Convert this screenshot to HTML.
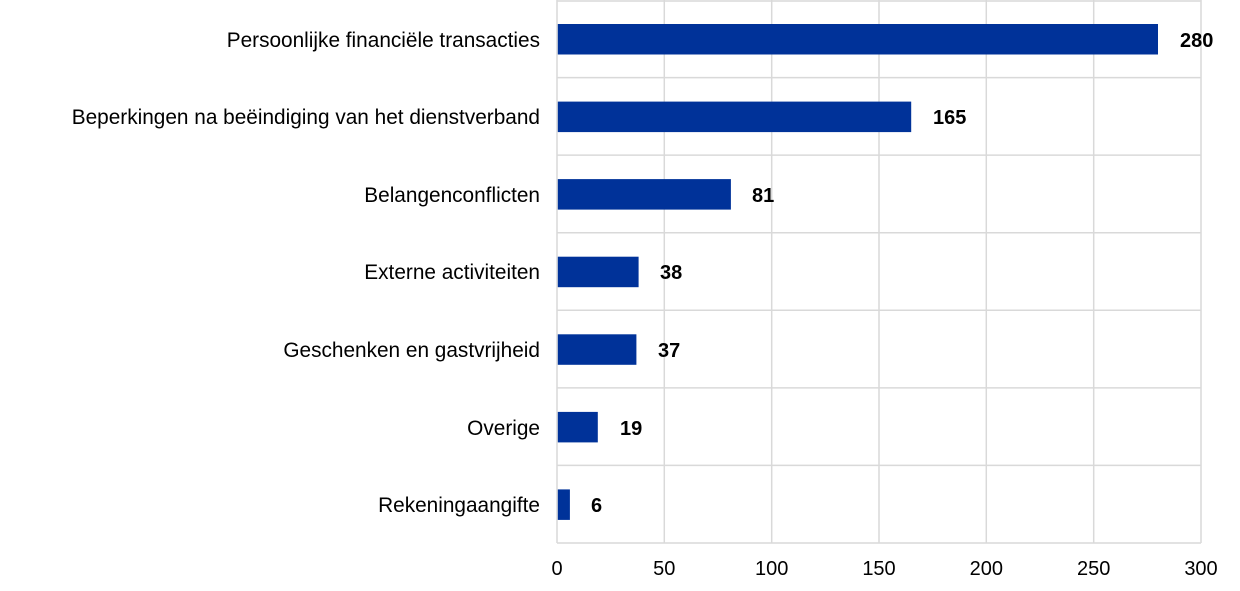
<!DOCTYPE html>
<html><head><meta charset="utf-8"><style>
html,body{margin:0;padding:0;background:#fff;}
svg{display:block;font-family:"Liberation Sans",Arial,sans-serif;}
</style></head><body>
<svg width="1240" height="591" viewBox="0 0 1240 591" xmlns="http://www.w3.org/2000/svg">
<g stroke="#d9d9d9" stroke-width="1.5" fill="none">
<line x1="664.3" y1="0" x2="664.3" y2="543"/>
<line x1="771.7" y1="0" x2="771.7" y2="543"/>
<line x1="879" y1="0" x2="879" y2="543"/>
<line x1="986.3" y1="0" x2="986.3" y2="543"/>
<line x1="1093.7" y1="0" x2="1093.7" y2="543"/>
<line x1="1201" y1="0" x2="1201" y2="543"/>
<line x1="557" y1="1" x2="1201" y2="1"/>
<line x1="557" y1="77.6" x2="1201" y2="77.6"/>
<line x1="557" y1="155.1" x2="1201" y2="155.1"/>
<line x1="557" y1="232.7" x2="1201" y2="232.7"/>
<line x1="557" y1="310.3" x2="1201" y2="310.3"/>
<line x1="557" y1="387.9" x2="1201" y2="387.9"/>
<line x1="557" y1="465.4" x2="1201" y2="465.4"/>
<line x1="557" y1="543" x2="1201" y2="543"/>
<line x1="557" y1="0" x2="557" y2="543"/>
</g>
<g fill="#003299">
<rect x="557.8" y="24" width="600.2" height="30.5"/>
<rect x="557.8" y="101.6" width="353.4" height="30.5"/>
<rect x="557.8" y="179.1" width="173.1" height="30.5"/>
<rect x="557.8" y="256.7" width="80.8" height="30.5"/>
<rect x="557.8" y="334.3" width="78.6" height="30.5"/>
<rect x="557.8" y="411.9" width="40" height="30.5"/>
<rect x="557.8" y="489.4" width="12.1" height="30.5"/>
</g>
<g font-size="20.8" fill="#000" text-anchor="end">
<text x="540" y="47">Persoonlijke financiële transacties</text>
<text x="540" y="124">Beperkingen na beëindiging van het dienstverband</text>
<text x="540" y="202">Belangenconflicten</text>
<text x="540" y="279">Externe activiteiten</text>
<text x="540" y="357">Geschenken en gastvrijheid</text>
<text x="540" y="435">Overige</text>
<text x="540" y="512">Rekeningaangifte</text>
</g>
<g font-size="20" font-weight="bold" fill="#000">
<text x="1180" y="47">280</text>
<text x="933" y="124">165</text>
<text x="752" y="202">81</text>
<text x="660" y="279">38</text>
<text x="658" y="357">37</text>
<text x="620" y="435">19</text>
<text x="591" y="512">6</text>
</g>
<g font-size="20" fill="#000" text-anchor="middle">
<text x="557" y="575">0</text>
<text x="664.3" y="575">50</text>
<text x="771.7" y="575">100</text>
<text x="879" y="575">150</text>
<text x="986.3" y="575">200</text>
<text x="1093.7" y="575">250</text>
<text x="1201" y="575">300</text>
</g>
</svg>
</body></html>
